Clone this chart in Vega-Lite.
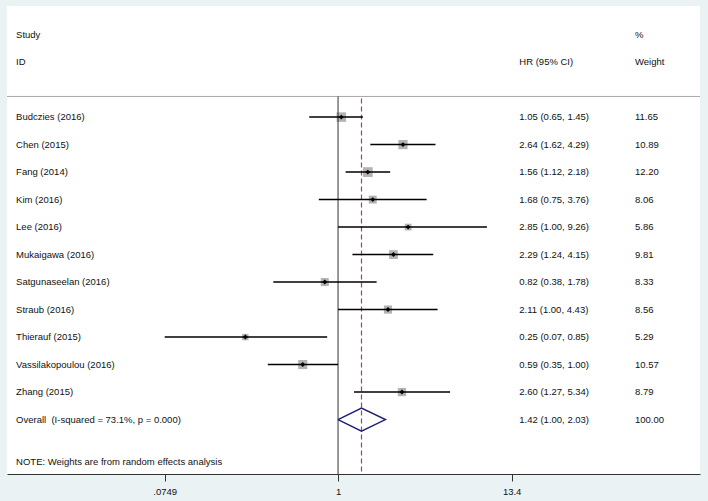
{
  "$schema": "https://vega.github.io/schema/vega-lite/v6.json",
  "width": 693,
  "height": 468,
  "autosize": {"type": "none"},
  "padding": {"left": 7, "top": 6, "right": 8, "bottom": 27},
  "background": "#eaf2f3",
  "view": {"fill": "white", "stroke": null},
  "config": {"text": {"font": "Liberation Sans", "fontSize": 9.5, "color": "#111"}},
  "datasets": {
    "studies": [
      {"study": "Budczies (2016)", "row": 0, "hr": 1.05, "lo": 0.65, "hi": 1.45, "weight": 11.65, "ci": "1.05 (0.65, 1.45)", "wtxt": "11.65"},
      {"study": "Chen (2015)", "row": 1, "hr": 2.64, "lo": 1.62, "hi": 4.29, "weight": 10.89, "ci": "2.64 (1.62, 4.29)", "wtxt": "10.89"},
      {"study": "Fang (2014)", "row": 2, "hr": 1.56, "lo": 1.12, "hi": 2.18, "weight": 12.20, "ci": "1.56 (1.12, 2.18)", "wtxt": "12.20"},
      {"study": "Kim (2016)", "row": 3, "hr": 1.68, "lo": 0.75, "hi": 3.76, "weight": 8.06, "ci": "1.68 (0.75, 3.76)", "wtxt": "8.06"},
      {"study": "Lee (2016)", "row": 4, "hr": 2.85, "lo": 1.00, "hi": 9.26, "weight": 5.86, "ci": "2.85 (1.00, 9.26)", "wtxt": "5.86"},
      {"study": "Mukaigawa (2016)", "row": 5, "hr": 2.29, "lo": 1.24, "hi": 4.15, "weight": 9.81, "ci": "2.29 (1.24, 4.15)", "wtxt": "9.81"},
      {"study": "Satgunaseelan (2016)", "row": 6, "hr": 0.82, "lo": 0.38, "hi": 1.78, "weight": 8.33, "ci": "0.82 (0.38, 1.78)", "wtxt": "8.33"},
      {"study": "Straub (2016)", "row": 7, "hr": 2.11, "lo": 1.00, "hi": 4.43, "weight": 8.56, "ci": "2.11 (1.00, 4.43)", "wtxt": "8.56"},
      {"study": "Thierauf (2015)", "row": 8, "hr": 0.25, "lo": 0.0749, "hi": 0.85, "weight": 5.29, "ci": "0.25 (0.07, 0.85)", "wtxt": "5.29"},
      {"study": "Vassilakopoulou (2016)", "row": 9, "hr": 0.59, "lo": 0.35, "hi": 1.00, "weight": 10.57, "ci": "0.59 (0.35, 1.00)", "wtxt": "10.57"},
      {"study": "Zhang (2015)", "row": 10, "hr": 2.60, "lo": 1.27, "hi": 5.34, "weight": 8.79, "ci": "2.60 (1.27, 5.34)", "wtxt": "8.79"},
      {"study": "Overall\u00a0 (I-squared = 73.1%, p = 0.000)", "row": 11, "ci": "1.42 (1.00, 2.03)", "wtxt": "100.00"}
    ],
    "diamond": [
      {"order": 1, "hr": 1.00, "row": 11},
      {"order": 2, "hr": 1.42, "row": 10.58},
      {"order": 3, "hr": 2.03, "row": 11},
      {"order": 4, "hr": 1.42, "row": 11.42},
      {"order": 5, "hr": 1.00, "row": 11}
    ],
    "headers": [
      {"label": "Study", "row": -3, "col": "study"},
      {"label": "ID", "row": -2, "col": "study"},
      {"label": "HR (95% CI)", "row": -2, "col": "ci"},
      {"label": "%", "row": -3, "col": "weight"},
      {"label": "Weight", "row": -2, "col": "weight"},
      {"label": "NOTE: Weights are from random effects analysis", "row": 12.55, "col": "study"}
    ]
  },
  "encoding": {
    "y": {"type": "quantitative", "scale": {"domain": [-4.04, 12.98], "reverse": true, "nice": false, "zero": false}, "axis": null}
  },
  "layer": [
    {
      "data": {"values": [{}]},
      "mark": {"type": "rule", "color": "#a8a8a8", "strokeWidth": 1},
      "encoding": {"y": {"datum": -0.75, "type": "quantitative"}}
    },
    {
      "data": {"name": "studies"},
      "transform": [{"filter": "isValid(datum.weight)"}],
      "mark": {"type": "point", "shape": "square", "filled": true, "color": "#b3b3b3", "opacity": 1},
      "encoding": {
        "x": {"field": "hr", "type": "quantitative",
          "scale": {"type": "log", "domain": [0.00709, 223.9], "nice": false},
          "axis": {"values": [0.0749, 1, 13.4], "title": null, "grid": false, "tickSize": 7, "tickColor": "#333", "domainColor": "#333", "domainWidth": 1, "labelFont": "Liberation Sans", "labelFontSize": 9.5, "labelColor": "#111", "labelPadding": 5, "labelFlush": false,
            "labelExpr": "datum.value < 1 ? substring(format(datum.value, '.3~g'), 1) : format(datum.value, '.3~g')"}},
        "y": {"field": "row"},
        "size": {"field": "weight", "type": "quantitative", "scale": {"type": "linear", "domain": [0, 12.2], "range": [0, 95]}, "legend": null}
      }
    },
    {
      "data": {"values": [{}]},
      "mark": {"type": "rule", "color": "#333333", "strokeWidth": 1},
      "encoding": {"x": {"datum": 1}, "y": {"datum": -0.75, "type": "quantitative"}, "y2": {"datum": 12.98}}
    },
    {
      "data": {"values": [{}]},
      "mark": {"type": "rule", "color": "#b3424f", "strokeWidth": 1.2, "strokeDash": [5, 3]},
      "encoding": {"x": {"datum": 1.42}, "y": {"datum": -0.68, "type": "quantitative"}, "y2": {"datum": 12.98}}
    },
    {
      "data": {"name": "studies"},
      "transform": [{"filter": "isValid(datum.weight)"}],
      "mark": {"type": "rule", "color": "#000", "strokeWidth": 1.5},
      "encoding": {"x": {"field": "lo", "type": "quantitative"}, "x2": {"field": "hi"}, "y": {"field": "row"}}
    },
    {
      "data": {"name": "studies"},
      "transform": [{"filter": "isValid(datum.weight)"}],
      "mark": {"type": "point", "shape": "diamond", "filled": true, "color": "#000", "size": 24, "opacity": 1},
      "encoding": {"x": {"field": "hr", "type": "quantitative"}, "y": {"field": "row"}}
    },
    {
      "data": {"name": "diamond"},
      "mark": {"type": "line", "color": "#1f2272", "strokeWidth": 1.5},
      "encoding": {"x": {"field": "hr", "type": "quantitative"}, "y": {"field": "row"}, "order": {"field": "order"}}
    },
    {
      "data": {"name": "studies"},
      "mark": {"type": "text", "align": "left", "baseline": "middle"},
      "encoding": {"x": {"datum": 0.00812}, "y": {"field": "row"}, "text": {"field": "study"}}
    },
    {
      "data": {"name": "studies"},
      "mark": {"type": "text", "align": "left", "baseline": "middle"},
      "encoding": {"x": {"datum": 15.03}, "y": {"field": "row"}, "text": {"field": "ci"}}
    },
    {
      "data": {"name": "studies"},
      "mark": {"type": "text", "align": "left", "baseline": "middle"},
      "encoding": {"x": {"datum": 84.7}, "y": {"field": "row"}, "text": {"field": "wtxt"}}
    },
    {
      "data": {"name": "headers"},
      "transform": [{"filter": "datum.col == 'study'"}],
      "mark": {"type": "text", "align": "left", "baseline": "middle"},
      "encoding": {"x": {"datum": 0.00812}, "y": {"field": "row"}, "text": {"field": "label"}}
    },
    {
      "data": {"name": "headers"},
      "transform": [{"filter": "datum.col == 'ci'"}],
      "mark": {"type": "text", "align": "left", "baseline": "middle"},
      "encoding": {"x": {"datum": 15.03}, "y": {"field": "row"}, "text": {"field": "label"}}
    },
    {
      "data": {"name": "headers"},
      "transform": [{"filter": "datum.col == 'weight'"}],
      "mark": {"type": "text", "align": "left", "baseline": "middle"},
      "encoding": {"x": {"datum": 84.7}, "y": {"field": "row"}, "text": {"field": "label"}}
    }
  ]
}
